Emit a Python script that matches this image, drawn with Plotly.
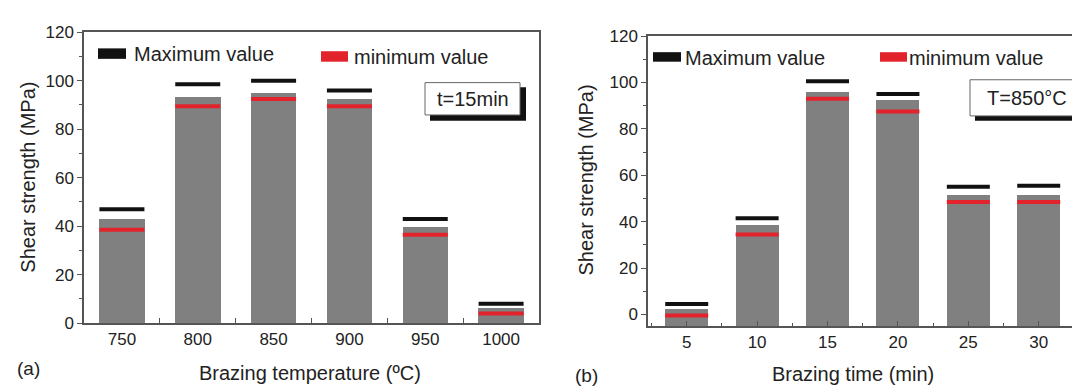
import plotly.graph_objects as go

W, H = 1080, 387

# ---------------- data ----------------
temp_labels = ["750", "800", "850", "900", "950", "1000"]
temp_mean = [43, 93, 95, 92.5, 39.5, 6]
temp_max = [47, 98.5, 100, 96, 43, 8]
temp_min = [38.5, 89.5, 92.5, 89.5, 36.5, 4]

time_vals = [5, 10, 15, 20, 25, 30]
time_mean = [2.5, 38.5, 96, 92.5, 51.5, 51.5]
time_max = [4.5, 41.5, 100.5, 95, 55, 55.5]
time_min = [-0.5, 34.5, 93, 87.5, 48.5, 48.5]

Y_RANGE_A = [0, 120]
Y_RANGE_B = [-5, 120]
X_RANGE_B = [2.25, 33.5]

# ---------------- style ----------------
FONT = "Liberation Sans, Arial, sans-serif"
TXT = "#222222"
AX = "#555555"
BAR = "#808080"
BLACK = "#111111"
RED = "#e3232b"


def px(x):
    return x / W


def py(y):
    return 1 - y / H


# pixel geometry of the two plot areas
A_L, A_R, A_T, A_B = 76, 531, 16, 322
B_L, B_R, B_T, B_B = 640, 1080, 20, 325

# line-ew marker length is 1.4 * size in plotly.js
MARK_A = 45 / 1.4
MARK_B = 43 / 1.4

fig = go.Figure()

# ---- panel (a) ----
fig.add_trace(go.Bar(x=temp_labels, y=temp_mean, width=0.6, marker=dict(color=BAR, line=dict(width=0)),
                     xaxis="x", yaxis="y", showlegend=False))
fig.add_trace(go.Scatter(x=temp_labels, y=temp_max, mode="markers", xaxis="x", yaxis="y",
                         marker=dict(symbol="line-ew", size=MARK_A, line=dict(width=4, color=BLACK)),
                         showlegend=False))
fig.add_trace(go.Scatter(x=temp_labels, y=temp_min, mode="markers", xaxis="x", yaxis="y",
                         marker=dict(symbol="line-ew", size=MARK_A, line=dict(width=4, color=RED)),
                         showlegend=False))

# ---- panel (b) ----
fig.add_trace(go.Bar(x=time_vals, y=[v - Y_RANGE_B[0] for v in time_mean], base=Y_RANGE_B[0], width=3.05,
                     marker=dict(color=BAR, line=dict(width=0)),
                     xaxis="x2", yaxis="y2", showlegend=False))
fig.add_trace(go.Scatter(x=time_vals, y=time_max, mode="markers", xaxis="x2", yaxis="y2",
                         marker=dict(symbol="line-ew", size=MARK_B, line=dict(width=4, color=BLACK)),
                         showlegend=False))
fig.add_trace(go.Scatter(x=time_vals, y=time_min, mode="markers", xaxis="x2", yaxis="y2",
                         marker=dict(symbol="line-ew", size=MARK_B, line=dict(width=4, color=RED)),
                         showlegend=False))

tickfont = dict(family=FONT, size=17, color=TXT)

common_line = dict(showline=True, linecolor=AX, linewidth=1.5, showgrid=False, zeroline=False,
                   tickcolor=AX, tickwidth=1.2, tickfont=tickfont)

fig.update_layout(
    width=W, height=H,
    margin=dict(l=0, r=0, t=0, b=0),
    paper_bgcolor="white", plot_bgcolor="white",
    bargap=0,
    xaxis=dict(domain=[px(A_L), px(A_R)], type="category", range=[-0.5, 5.5], mirror=True,
               ticks="inside", ticklen=5, tickson="boundaries", anchor="y", **common_line),
    yaxis=dict(domain=[py(A_B), py(A_T)], range=Y_RANGE_A, dtick=20, mirror=True,
               ticks="outside", ticklen=5, anchor="x",
               minor=dict(dtick=10, ticks="outside", ticklen=3, tickcolor=AX),
               **common_line),
    xaxis2=dict(domain=[px(B_L), px(B_R)], range=X_RANGE_B, dtick=5, tick0=0, mirror=True,
                ticks="inside", ticklen=5, anchor="y2",
                minor=dict(dtick=2.5, ticks="inside", ticklen=3, tickcolor=AX),
                **common_line),
    yaxis2=dict(domain=[py(B_B), py(B_T)], range=Y_RANGE_B, dtick=20, tick0=0, mirror=False,
                ticks="outside", ticklen=5, anchor="x2",
                minor=dict(dtick=10, ticks="outside", ticklen=3, tickcolor=AX),
                **common_line),
)

shapes = []
annotations = []


def rect(x0, y0, x1, y1, fill, line_color=None, line_width=0):
    shapes.append(dict(type="rect", xref="paper", yref="paper",
                       x0=px(x0), x1=px(x1), y0=py(y1), y1=py(y0),
                       fillcolor=fill, line=dict(color=line_color or fill, width=line_width),
                       layer="above"))


def text(x, y, s, size=20, xanchor="left", yanchor="middle", textangle=0):
    annotations.append(dict(xref="paper", yref="paper", x=px(x), y=py(y), text=s, showarrow=False,
                            xanchor=xanchor, yanchor=yanchor, textangle=textangle, borderpad=0,
                            font=dict(family=FONT, size=size, color=TXT)))


# legends (panel a)
rect(90, 33, 118, 44, BLACK)
text(125, 39, "Maximum value")
rect(313, 36, 340, 47, RED)
text(345, 42, "minimum value")
# legends (panel b)
rect(645, 37, 673, 47, BLACK)
text(676, 43, "Maximum value")
rect(872, 37, 899, 47, RED)
text(900, 43, "minimum value")

# condition boxes with shadow
rect(422, 74, 518, 109, BLACK)
rect(417, 69, 512, 103, "white", "#666666", 1)
text(464.5, 86, "t=15min", xanchor="center")
rect(967, 71, 1082, 109, BLACK)
rect(962, 66, 1076, 104, "white", "#666666", 1)
text(1019, 85, "T=850\u00b0C", xanchor="center")

# axis titles and panel letters
text(302, 374, "Brazing temperature (\u00baC)", xanchor="center")
text(845, 375, "Brazing time (min)", xanchor="center")
text(20, 169, "Shear strength (MPa)", xanchor="center", textangle=-90)
text(578, 172, "Shear strength (MPa)", xanchor="center", textangle=-90)
text(8, 370, "(a)", size=19)
text(566, 377, "(b)", size=19)

fig.update_layout(shapes=shapes, annotations=annotations)

fig.write_html("out.html")
